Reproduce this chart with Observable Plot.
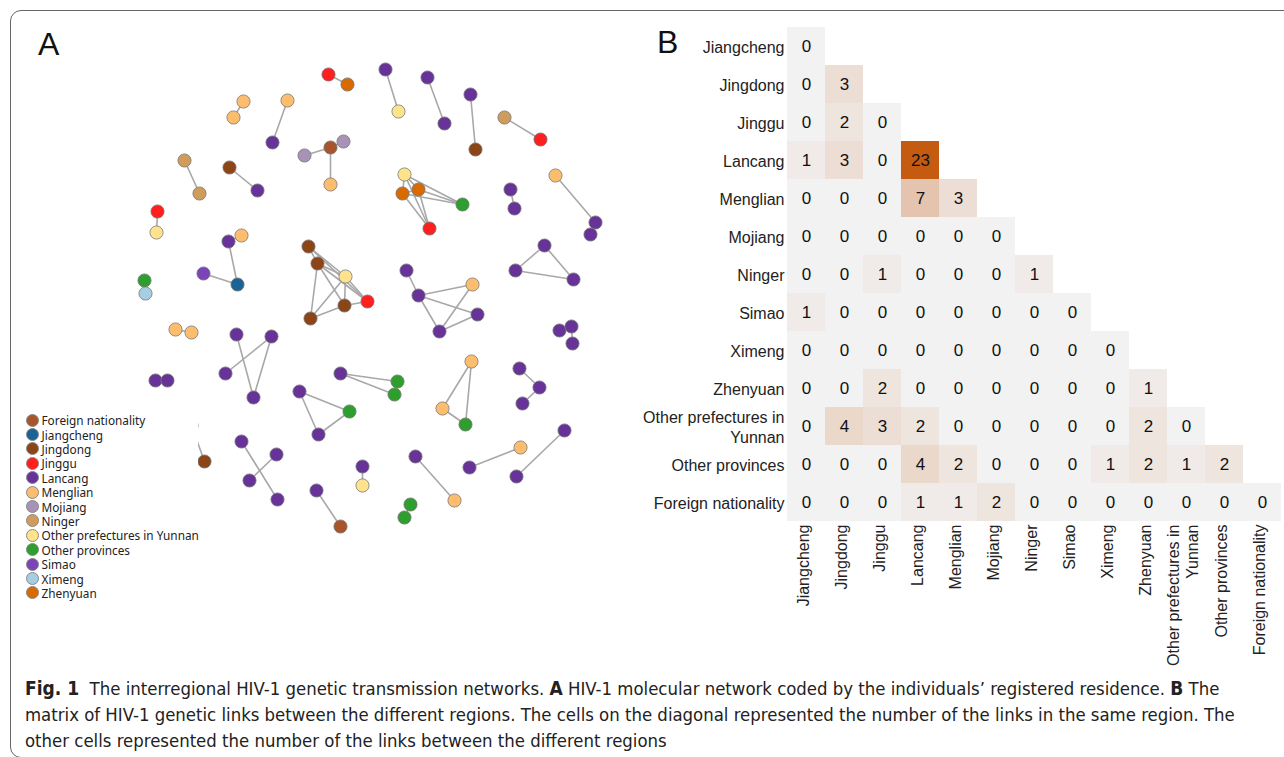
<!DOCTYPE html>
<html><head><meta charset="utf-8">
<script src="https://cdn.jsdelivr.net/npm/d3@7"></script>
<script src="https://cdn.jsdelivr.net/npm/@observablehq/plot@0.6"></script>
<style>
body{margin:0;width:1284px;height:757px;overflow:hidden;background:#fff;position:relative;font-family:"Liberation Sans",Arial,sans-serif;}
#frame{position:absolute;left:10px;top:10px;width:1300px;height:746px;border:1px solid #666;border-radius:11px;}
#panelA{position:absolute;left:0;top:0;}
#panelB{position:absolute;left:630px;top:0;}
.lab{position:absolute;font-size:32px;line-height:32px;color:#111;}
#legend{position:absolute;left:24px;top:413px;width:174px;height:190px;background:#fff;font-family:"Noto Sans",sans-serif;font-size:11.8px;color:#222;overflow:visible;}
.lr{height:14.4px;display:flex;align-items:center;white-space:nowrap}
.lr .c{width:13px;height:13px;border-radius:50%;border:0.8px solid #888;margin-left:1.5px;margin-right:3px;box-sizing:border-box;flex:none}
#caption{position:absolute;left:25px;top:675px;font-family:"Liberation Sans Narrow","DejaVu Sans Condensed",sans-serif;font-size:18.4px;line-height:26px;white-space:nowrap;color:#222}
#caption b{font-size:19px}
</style></head>
<body>
<div id="frame"></div>
<div id="panelA"></div>
<div id="legend"></div>
<div id="panelB"></div>
<div class="lab" style="left:38px;top:28px">A</div>
<div class="lab" style="left:657px;top:26px">B</div>
<div id="caption">
<div><b>Fig. 1</b>&nbsp; The interregional HIV-1 genetic transmission networks. <b>A</b> HIV-1 molecular network coded by the individuals’ registered residence. <b>B</b> The</div>
<div>matrix of HIV-1 genetic links between the different regions. The cells on the diagonal represented the number of the links in the same region. The</div>
<div>other cells represented the number of the links between the different regions</div>
</div>
<script>
// ---- Panel A: network ----
const groups = ["Foreign nationality","Jiangcheng","Jingdong","Jinggu","Lancang","Menglian","Mojiang","Ninger","Other prefectures in Yunnan","Other provinces","Simao","Ximeng","Zhenyuan"];
const groupColors = ["#a9552b","#1b6396","#8b4517","#ff1f1f","#673399","#fdbd6f","#a892b5","#cf9c5c","#ffe38c","#2e9e2e","#7c44b9","#a6cee3","#d86a00"];

const nodeX = [328,347,243,233,287,272,304,330,343,330,184,199,229,257,157,156,385,398,427,444,470,475,504,540,404,402,418,462,429,555,595,590,510,514,228,241,203,237,144,145,175,191,155,167,236,271,225,253,308,317,345,344,310,367,406,418,472,477,439,544,515,573,559,571,572,471,442,465,519,539,522,340,397,394,299,349,318,204,191,241,276,249,277,362,362,316,340,410,404,415,454,469,520,516,564];
const nodeY = [74,84,101,117,100,142,155,147,141,184,160,193,167,190,211,232,69,111,77,123,94,149,117,139,174,193,189,204,228,175,222,234,189,208,241,235,273,284,280,293,329,332,380,380,334,336,373,397,246,263,276,305,318,301,270,295,284,314,331,245,270,279,330,326,343,361,408,424,368,387,403,373,381,394,391,411,434,461,425,441,454,480,499,466,485,490,526,504,517,456,500,467,447,476,430];
const nodeGroup = [3,12,5,5,5,4,6,0,6,5,7,7,2,4,3,8,4,8,4,4,4,2,7,3,8,12,12,9,3,5,4,4,4,4,4,5,10,1,9,11,5,5,4,4,4,4,4,4,2,2,8,2,2,3,4,4,5,4,4,4,4,4,4,4,4,5,5,9,4,4,4,4,9,9,4,9,4,2,4,4,4,4,4,4,8,4,0,9,9,4,5,4,5,4,4];
const edgeFrom = [0,2,4,6,7,7,10,12,14,16,18,20,22,24,24,25,24,25,26,24,25,26,29,30,32,34,34,36,38,40,42,44,45,45,48,48,49,49,49,49,48,50,50,50,51,51,54,55,55,55,56,57,59,59,60,62,63,65,65,66,68,69,71,71,72,74,74,75,77,79,80,83,85,87,89,91,93];
const edgeTo   = [1,3,5,7,8,9,11,13,15,17,19,21,23,25,26,26,27,27,27,28,28,28,30,31,33,35,37,37,39,41,43,47,47,46,50,53,50,51,52,53,49,51,52,53,52,53,55,56,57,58,58,58,60,61,61,63,64,66,67,67,69,70,72,73,73,75,76,76,78,82,81,84,86,88,90,92,94];

const nodes = nodeX.map((x, i) => ({x, y: nodeY[i], group: groups[nodeGroup[i]]}));
const edges = edgeFrom.map((a, i) => ({x1: nodeX[a], y1: nodeY[a], x2: nodeX[edgeTo[i]], y2: nodeY[edgeTo[i]]}));

const plotA = Plot.plot({
  width: 630, height: 620,
  margin: 0,
  x: {domain: [0, 630], range: [0, 630], axis: null},
  y: {domain: [0, 620], range: [0, 620], axis: null},
  color: {type: "ordinal", domain: groups, range: groupColors},
  style: {background: "transparent", overflow: "visible"},
  marks: [
    Plot.link(edges, {x1: "x1", y1: "y1", x2: "x2", y2: "y2", stroke: "#a8a8a8", strokeWidth: 1.6}),
    Plot.dot(nodes, {x: "x", y: "y", r: 6.6, fill: "group", stroke: "#7a7a7a", strokeWidth: 0.8})
  ]
});
document.getElementById("panelA").appendChild(plotA);

const legend = document.getElementById("legend");
groups.forEach((g, i) => {
  const row = document.createElement("div");
  row.className = "lr";
  const c = document.createElement("span");
  c.className = "c";
  c.style.background = groupColors[i];
  row.appendChild(c);
  row.appendChild(document.createTextNode(g));
  legend.appendChild(row);
});

// ---- Panel B: matrix ----
const regions = ["Jiangcheng","Jingdong","Jinggu","Lancang","Menglian","Mojiang","Ninger","Simao","Ximeng","Zhenyuan","Other prefectures in Yunnan","Other provinces","Foreign nationality"];
const matrixRows = [
  [0],
  [0,3],
  [0,2,0],
  [1,3,0,23],
  [0,0,0,7,3],
  [0,0,0,0,0,0],
  [0,0,1,0,0,0,1],
  [1,0,0,0,0,0,0,0],
  [0,0,0,0,0,0,0,0,0],
  [0,0,2,0,0,0,0,0,0,1],
  [0,4,3,2,0,0,0,0,0,2,0],
  [0,0,0,4,2,0,0,0,1,2,1,2],
  [0,0,0,1,1,2,0,0,0,0,0,0,0]
];
const cells = [];
matrixRows.forEach((row, i) => row.forEach((v, j) => cells.push({row: regions[i], col: regions[j], v})));
const fmt = d => d === "Other prefectures in Yunnan" ? "Other prefectures in\nYunnan" : d;
const axisFont = "'Liberation Sans', Arial, sans-serif";

const plotB = Plot.plot({
  width: 654, height: 690,
  marginLeft: 157, marginTop: 27, marginRight: 3, marginBottom: 169,
  x: {domain: regions, padding: 0, axis: null},
  y: {domain: regions, padding: 0, axis: null},
  color: {type: "linear", domain: [0, 23], range: ["#f2f2f2", "#c55a11"]},
  style: {background: "transparent", overflow: "visible", fontFamily: axisFont, fontSize: "16px", color: "#222"},
  marks: [
    Plot.cell(cells, {x: "col", y: "row", fill: "v"}),
    Plot.text(cells, {x: "col", y: "row", text: "v", fontSize: 17, fontFamily: axisFont, fill: "#111"}),
    Plot.axisY({tickSize: 0, tickPadding: 3, tickFormat: fmt, label: null, lineHeight: 1.22, fontSize: 16, fontFamily: axisFont}),
    Plot.axisX({anchor: "bottom", tickSize: 0, tickPadding: 3, tickRotate: -90, tickFormat: fmt, label: null, lineHeight: 1.18, fontSize: 16, fontFamily: axisFont, dx: -4})
  ]
});
document.getElementById("panelB").appendChild(plotB);
</script>
</body></html>
